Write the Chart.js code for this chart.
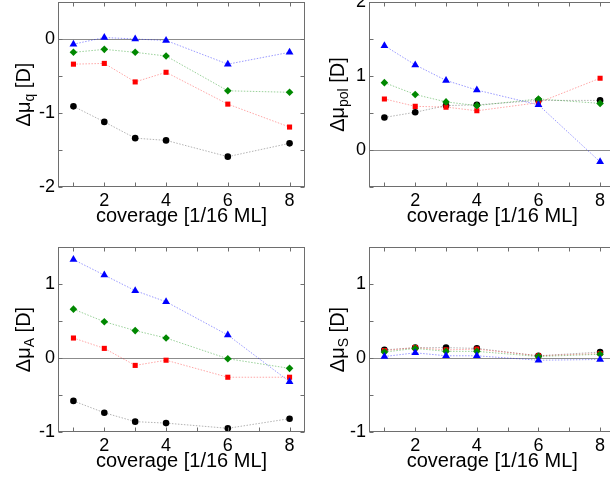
<!DOCTYPE html>
<html>
<head>
<meta charset="utf-8">
<script src="https://cdn.jsdelivr.net/npm/chart.js@4.4.0/dist/chart.umd.min.js"></script>
<style>
  html, body { margin: 0; padding: 0; background: #fff; }
  #wrap { position: relative; width: 610px; height: 479px; overflow: hidden; background: #fff; }
  canvas { position: absolute; }
</style>
</head>
<body>
<div id="wrap">
  <canvas id="pQ"   width="310" height="255" style="left:0;top:-15px"></canvas>
  <canvas id="pPol" width="310" height="255" style="left:310px;top:-15px"></canvas>
  <canvas id="pA"   width="310" height="255" style="left:0;top:230px"></canvas>
  <canvas id="pS"   width="310" height="255" style="left:310px;top:230px"></canvas>
</div>
<script>
// coverage in units of 1/16 monolayer
const coverage = [1, 2, 3, 4, 6, 8];

// Δμ_q
const qBlack = [-0.91, -1.12, -1.34, -1.37, -1.59, -1.41];
const qRed   = [-0.34, -0.33, -0.58, -0.45, -0.88, -1.19];
const qGreen = [-0.18, -0.14, -0.18, -0.23, -0.70, -0.72];
const qBlue  = [-0.07,  0.02,  0.00, -0.02, -0.34, -0.18];

// Δμ_pol
const polBlack = [0.44, 0.51, 0.60, 0.61, 0.67, 0.67];
const polRed   = [0.69, 0.59, 0.58, 0.53, 0.64, 0.97];
const polGreen = [0.91, 0.75, 0.65, 0.60, 0.69, 0.63];
const polBlue  = [1.41, 1.15, 0.94, 0.81, 0.61, -0.16];

// Δμ_A
const aBlack = [-0.58, -0.74, -0.86, -0.88, -0.95, -0.82];
const aRed   = [ 0.27,  0.13, -0.10, -0.03, -0.26, -0.26];
const aGreen = [ 0.66,  0.49,  0.37,  0.27, -0.01, -0.14];
const aBlue  = [ 1.33,  1.12,  0.91,  0.76,  0.31, -0.32];

// Δμ_S
const sBlack = [0.11, 0.14, 0.14, 0.13, 0.03, 0.08];
const sRed   = [0.10, 0.14, 0.11, 0.12, 0.03, 0.06];
const sGreen = [0.08, 0.13, 0.09, 0.09, 0.02, 0.05];
const sBlue  = [0.02, 0.07, 0.03, 0.03, -0.03, -0.02];

// labelled ticks
const xTickValues = [2, 4, 6, 8];
const yTicksQ   = [-2, -1, 0];
const yTicksPol = [0, 1, 2];
const yTicksA   = [-1, 0, 1];
const yTicksS   = [-1, 0, 1];

const xTitle = 'coverage [1/16 ML]';
const FONT = '"Liberation Sans", Arial, Helvetica, sans-serif';

// marker / line styling for the four series
const styles = {
  blue:  { color: '#0000ff', line: 'rgba(0,0,255,0.40)',  marker: 'triangle', radius: 4.5 },
  green: { color: '#008800', line: 'rgba(0,140,0,0.40)',  marker: 'rectRot',  radius: 3.8 },
  red:   { color: '#ff0000', line: 'rgba(255,0,0,0.35)',  marker: 'rect',     radius: 3.6 },
  black: { color: '#000000', line: 'rgba(0,0,0,0.30)',    marker: 'circle',   radius: 3.3 }
};

// frame, inward ticks, zero line and axis titles
const framePlugin = {
  id: 'panelFrame',
  beforeDatasetsDraw(chart) {
    const { ctx, chartArea: a, scales: { y } } = chart;
    const y0 = Math.round(y.getPixelForValue(0)) + 0.5;
    ctx.save();
    ctx.strokeStyle = '#8c8c8c';
    ctx.lineWidth = 1;
    ctx.beginPath();
    ctx.moveTo(a.left, y0);
    ctx.lineTo(a.right, y0);
    ctx.stroke();
    ctx.restore();
  },
  afterDraw(chart, args, opts) {
    const { ctx, chartArea: a, scales: { x, y } } = chart;
    ctx.save();
    ctx.strokeStyle = '#6e6e6e';
    ctx.lineWidth = 1;
    const L = Math.round(a.left) + 0.5, R = Math.round(a.right) - 0.5;
    const T = Math.round(a.top) + 0.5, B = Math.round(a.bottom) - 0.5;
    ctx.strokeRect(L, T, R - L, B - T);
    const tl = 4;
    ctx.beginPath();
    for (let v = y.min; v <= y.max + 1e-9; v += 0.5) {
      const py = Math.round(y.getPixelForValue(v)) + 0.5;
      ctx.moveTo(L, py); ctx.lineTo(L + tl, py);
      ctx.moveTo(R, py); ctx.lineTo(R - tl, py);
    }
    for (let v = 1; v <= 8; v++) {
      const px = Math.round(x.getPixelForValue(v)) + 0.5;
      ctx.moveTo(px, B); ctx.lineTo(px, B - tl);
      ctx.moveTo(px, T); ctx.lineTo(px, T + tl);
    }
    ctx.stroke();

    // x title
    ctx.fillStyle = '#000';
    ctx.font = '20px ' + FONT;
    ctx.textAlign = 'center';
    ctx.textBaseline = 'alphabetic';
    ctx.fillText(xTitle, (a.left + a.right) / 2, a.bottom + 35);

    // y title with subscript, rotated
    const mainFont = '20px ' + FONT, subFont = '14px ' + FONT;
    ctx.font = mainFont;
    const w1 = ctx.measureText(opts.main).width;
    const w3 = ctx.measureText(opts.tail).width;
    ctx.font = subFont;
    const w2 = ctx.measureText(opts.sub).width;
    const total = w1 + w2 + w3;
    ctx.translate(opts.titleX, (a.top + a.bottom) / 2);
    ctx.rotate(-Math.PI / 2);
    ctx.textAlign = 'left';
    let cx = -total / 2;
    ctx.font = mainFont;
    ctx.fillText(opts.main, cx, 0);
    cx += w1;
    ctx.font = subFont;
    ctx.fillText(opts.sub, cx, 4);
    cx += w2;
    ctx.font = mainFont;
    ctx.fillText(opts.tail, cx, 0);
    ctx.restore();
  }
};

function makePanel(id, series, yMin, yMax, yTicks, title, yWidth, padRight) {
  return new Chart(document.getElementById(id), {
    type: 'line',
    data: {
      datasets: series.map(([vals, key]) => {
        const s = styles[key];
        return {
          data: coverage.map((c, i) => ({ x: c, y: vals[i] })),
          borderColor: s.line,
          borderWidth: 1,
          borderDash: [1.5, 1.5],
          pointStyle: s.marker,
          pointRadius: s.radius,
          pointBackgroundColor: s.color,
          pointBorderColor: s.color,
          pointBorderWidth: 0,
          tension: 0,
          fill: false
        };
      })
    },
    options: {
      responsive: false,
      animation: false,
      devicePixelRatio: 1,
      layout: { padding: { top: 17, right: padRight, bottom: 0, left: 0 } },
      plugins: {
        legend: { display: false },
        tooltip: { enabled: false },
        panelFrame: title
      },
      scales: {
        x: {
          type: 'linear', min: 0.5, max: 8.5,
          grid: { display: false, drawTicks: false },
          border: { display: false },
          afterBuildTicks: s => { s.ticks = xTickValues.map(v => ({ value: v })); },
          afterFit: s => { s.height = 53; },
          ticks: { padding: 3, color: '#000', maxRotation: 0, autoSkip: false,
                   font: { family: FONT, size: 18 }, callback: v => String(v) }
        },
        y: {
          type: 'linear', min: yMin, max: yMax,
          grid: { display: false, drawTicks: false },
          border: { display: false },
          afterBuildTicks: s => { s.ticks = yTicks.map(v => ({ value: v })); },
          afterFit: s => { s.width = yWidth; },
          ticks: { padding: 3, color: '#000', autoSkip: false,
                   font: { family: FONT, size: 18 }, callback: v => String(v) }
        }
      }
    },
    plugins: [framePlugin]
  });
}

makePanel('pQ',
  [[qBlue, 'blue'], [qGreen, 'green'], [qRed, 'red'], [qBlack, 'black']],
  -2, 0.5, yTicksQ, { main: 'Δμ', sub: 'q', tail: ' [D]', titleX: 30 }, 58, 5);

makePanel('pPol',
  [[polBlue, 'blue'], [polGreen, 'green'], [polRed, 'red'], [polBlack, 'black']],
  -0.5, 2, yTicksPol, { main: 'Δμ', sub: 'pol', tail: ' [D]', titleX: 34 }, 59, -6);

makePanel('pA',
  [[aBlue, 'blue'], [aGreen, 'green'], [aRed, 'red'], [aBlack, 'black']],
  -1, 1.5, yTicksA, { main: 'Δμ', sub: 'A', tail: ' [D]', titleX: 30 }, 58, 5);

makePanel('pS',
  [[sBlue, 'blue'], [sGreen, 'green'], [sRed, 'red'], [sBlack, 'black']],
  -1, 1.5, yTicksS, { main: 'Δμ', sub: 'S', tail: ' [D]', titleX: 34 }, 59, -6);
</script>
</body>
</html>
